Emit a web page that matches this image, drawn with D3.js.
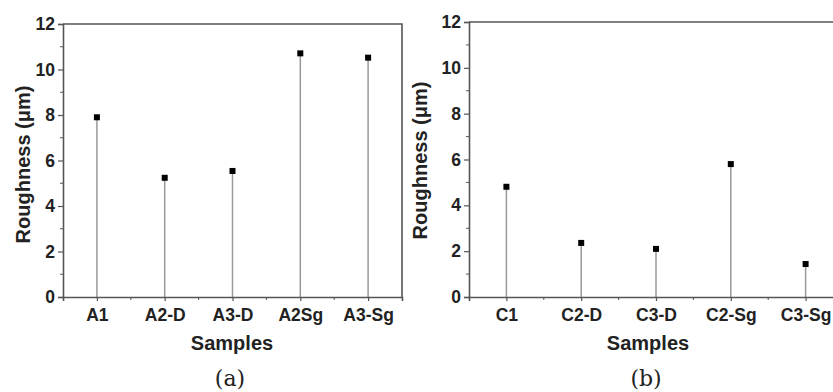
<!DOCTYPE html>
<html>
<head>
<meta charset="utf-8">
<script src="https://cdn.jsdelivr.net/npm/d3@7"></script>
<style>
  body { margin: 0; background: #fff; }
  svg text { font-family: "Liberation Sans", Arial, sans-serif; font-weight: bold; fill: #222; }
  svg text.caption { font-family: "DejaVu Serif", "Liberation Serif", serif; font-weight: normal; }
</style>
</head>
<body>
<svg id="chart" width="833" height="392"></svg>
<script>
// panel (a)
const samplesA = ["A1", "A2-D", "A3-D", "A2Sg", "A3-Sg"];
const roughA = [7.9, 5.24, 5.54, 10.71, 10.52];
// panel (b)
const samplesB = ["C1", "C2-D", "C3-D", "C2-Sg", "C3-Sg"];
const roughB = [4.81, 2.36, 2.1, 5.8, 1.44];

const yMajor = [0, 2, 4, 6, 8, 10, 12];
const yMinor = [1, 3, 5, 7, 9, 11];

const svg = d3.select("#chart");
const axisCol = "#555";

function drawPanel(cfg) {
    const g = svg.append("g");
    const x = d3.scalePoint().domain(cfg.cats).range([cfg.left, cfg.right]).padding(0.5);
    const y = d3.scaleLinear().domain([0, 12]).range([cfg.bottom, cfg.top]);
    const step = x.step();

    // frame (top + right)
    g.append("path")
        .attr("d", `M${cfg.left},${cfg.top}H${cfg.right}V${cfg.bottom}`)
        .attr("fill", "none")
        .attr("stroke", axisCol)
        .attr("stroke-width", 1.6);

    // stems
    g.selectAll(".stem")
        .data(cfg.vals)
        .enter().append("line")
        .attr("x1", (d, i) => x(cfg.cats[i]))
        .attr("x2", (d, i) => x(cfg.cats[i]))
        .attr("y1", y(0))
        .attr("y2", (d) => y(d))
        .attr("stroke", "#999")
        .attr("stroke-width", 1.5);

    // markers
    g.selectAll(".dot")
        .data(cfg.vals)
        .enter().append("rect")
        .attr("x", (d, i) => x(cfg.cats[i]) - 3)
        .attr("y", (d) => y(d) - 3)
        .attr("width", 6)
        .attr("height", 6)
        .attr("fill", "#000");

    // y axis
    const yAxis = d3.axisLeft(y).tickValues(yMajor).tickSize(5).tickPadding(3);
    const ya = g.append("g").attr("transform", `translate(${cfg.left},0)`).call(yAxis);
    ya.selectAll(".tick line").attr("stroke", axisCol).attr("stroke-width", 1.2);
    ya.select(".domain").attr("stroke", axisCol).attr("stroke-width", 1.6);
    ya.selectAll("text").style("font-size", "17.5px").attr("fill", "#222");
    g.selectAll(".yminor")
        .data(yMinor)
        .enter().append("line")
        .attr("x1", cfg.left - 3).attr("x2", cfg.left)
        .attr("y1", (d) => y(d)).attr("y2", (d) => y(d))
        .attr("stroke", axisCol).attr("stroke-width", 1);

    // x axis
    const xAxis = d3.axisBottom(x).tickSize(4).tickPadding(8);
    const xa = g.append("g").attr("transform", `translate(0,${cfg.bottom})`).call(xAxis);
    xa.selectAll(".tick line").attr("stroke", axisCol).attr("stroke-width", 1.2);
    xa.select(".domain").attr("stroke", axisCol).attr("stroke-width", 1.6);
    xa.selectAll("text").style("font-size", "17.5px").attr("fill", "#222");
    g.selectAll(".xminor")
        .data(cfg.cats.slice(1))
        .enter().append("line")
        .attr("x1", (d) => x(d) - step / 2).attr("x2", (d) => x(d) - step / 2)
        .attr("y1", cfg.bottom).attr("y2", cfg.bottom + 3)
        .attr("stroke", axisCol).attr("stroke-width", 1);

    // titles
    g.append("text")
        .attr("transform", `translate(${cfg.yLabelX},${cfg.yLabelY}) rotate(-90)`)
        .attr("text-anchor", "middle")
        .style("font-size", "20px")
        .text(cfg.yLabel);

    g.append("text")
        .attr("x", cfg.titleX)
        .attr("y", cfg.bottom + 53)
        .attr("text-anchor", "middle")
        .style("font-size", "20px")
        .text("Samples");

    g.append("text")
        .attr("class", "caption")
        .attr("x", cfg.titleX - 2)
        .attr("y", 386)
        .attr("text-anchor", "middle")
        .style("font-size", "22px")
        .text(cfg.caption);
}

drawPanel({
    cats: samplesA, vals: roughA,
    left: 63, right: 402, top: 24, bottom: 297,
    yLabel: "Roughness (\u03bcm)", yLabelX: 30, yLabelY: 164.5, titleX: 232, caption: "(a)"
});

drawPanel({
    cats: samplesB, vals: roughB,
    left: 469, right: 843, top: 22, bottom: 297,
    yLabel: "Roughness  (\u03bcm)", yLabelX: 427, yLabelY: 160.5, titleX: 648, caption: "(b)"
});
</script>
</body>
</html>
